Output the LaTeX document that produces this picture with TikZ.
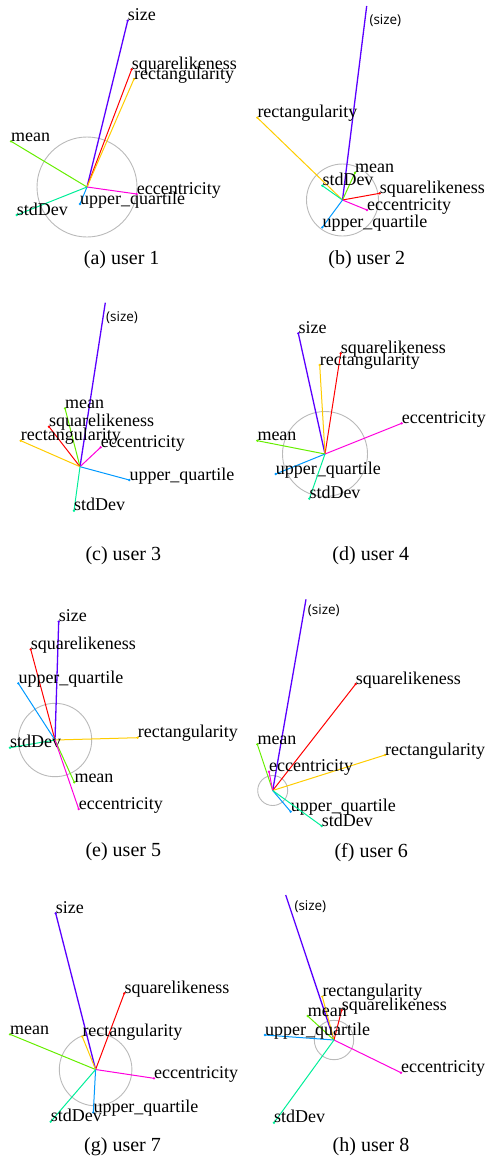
\documentclass[tikz,border=0pt]{standalone}
\usepackage{fontspec}
\setmainfont{Liberation Serif}
\newfontfamily\sizefont{Open Sans}
\definecolor{cSize}{HTML}{5A00FF}
\definecolor{cSquare}{HTML}{FF0000}
\definecolor{cRect}{HTML}{FFCC00}
\definecolor{cMean}{HTML}{66EE00}
\definecolor{cStd}{HTML}{00EE99}
\definecolor{cUpper}{HTML}{0099FF}
\definecolor{cEcc}{HTML}{FF00DD}
\tikzset{
  ray/.style={line width=1pt},
  sizeray/.style={line width=1.3pt, cSize},
  lbl/.style={anchor=base west, inner sep=0pt, font=\fontsize{18}{18}\selectfont},
  sizelbl/.style={anchor=west, inner sep=0pt, font=\sizefont\fontsize{13.5}{13.5}\selectfont},
  capt/.style={inner sep=0pt, font=\fontsize{20}{20}\selectfont},
  guide/.style={draw=black!27, line width=0.9pt}
}
% panel, key, colour, x, y, label
\newcommand\drawray[6]{%
  \coordinate (#1-#2) at (#4,#5);
  \draw[ray,#3] (#1-c) -- (#1-#2);
  \fill[#3] (#1-#2) circle (1.3);
  \node[lbl] (#1-#2-l) at (#1-#2) {#6};
}
% truncated size ray: panel, x, y, label x, label y
\newcommand\drawsizecut[5]{%
  \coordinate (#1-size) at (#2,#3);
  \draw[sizeray] (#1-c) -- (#1-size);
  \node[sizelbl] (#1-size-l) at (#4,#5) {(size)};
}
\begin{document}
\begin{tikzpicture}[x=1pt,y=-1pt]
\useasboundingbox (0,0) rectangle (487,1159);

% ---------------- (a)
\coordinate (a-c) at (87,187);
\draw[guide] (a-c) circle (50);
\draw[sizeray] (a-c) -- (127.7,20.7) coordinate (a-size);
\fill[cSize] (a-size) circle (1.3);
\node[lbl] (a-size-l) at (a-size) {size};
\drawray{a}{sq}{cSquare}{131.7}{69.3}{squarelikeness}
\drawray{a}{re}{cRect}{134}{79}{rectangularity}
\drawray{a}{me}{cMean}{11}{141.3}{mean}
\drawray{a}{ec}{cEcc}{136.7}{194}{eccentricity}
\drawray{a}{up}{cUpper}{80}{204}{upper\_quartile}
\drawray{a}{sd}{cStd}{16.7}{215}{stdDev}
\node[capt] (a-cap) at (121.7,259.3) {(a) user 1};

% ---------------- (b)
\coordinate (b-c) at (342.5,200);
\draw[guide] (b-c) circle (36);
\drawsizecut{b}{366.7}{6}{369.3}{20.7}
\drawray{b}{re}{cRect}{257.3}{117.7}{rectangularity}
\drawray{b}{me}{cMean}{355}{172.7}{mean}
\drawray{b}{sd}{cStd}{322.3}{185.7}{stdDev}
\drawray{b}{sq}{cSquare}{379.7}{193.3}{squarelikeness}
\drawray{b}{ec}{cEcc}{367}{210}{eccentricity}
\drawray{b}{up}{cUpper}{322.3}{227.3}{upper\_quartile}
\node[capt] (b-cap) at (366.7,259.3) {(b) user 2};

% ---------------- (c)
\coordinate (c-c) at (80,466.7);
\drawsizecut{c}{105.3}{302.7}{106}{317.7}
\drawray{c}{me}{cMean}{65}{408.3}{mean}
\drawray{c}{sq}{cSquare}{49}{426.7}{squarelikeness}
\drawray{c}{re}{cRect}{20.7}{440.7}{rectangularity}
\drawray{c}{ec}{cEcc}{100.7}{447.3}{eccentricity}
\drawray{c}{up}{cUpper}{129.3}{480}{upper\_quartile}
\drawray{c}{sd}{cStd}{74}{510.7}{stdDev}
\node[capt] (c-cap) at (123.3,555.7) {(c) user 3};

% ---------------- (d)
\coordinate (d-c) at (325,454);
\draw[guide] (d-c) circle (42.5);
\draw[sizeray] (d-c) -- (298.3,333.3) coordinate (d-size);
\fill[cSize] (d-size) circle (1.3);
\node[lbl] (d-size-l) at (d-size) {size};
\drawray{d}{sq}{cSquare}{340.7}{353.3}{squarelikeness}
\drawray{d}{re}{cRect}{319.7}{365}{rectangularity}
\drawray{d}{ec}{cEcc}{401.7}{423.3}{eccentricity}
\drawray{d}{me}{cMean}{257.3}{440.7}{mean}
\drawray{d}{up}{cUpper}{275.7}{474}{upper\_quartile}
\drawray{d}{sd}{cStd}{309.3}{498.7}{stdDev}
\node[capt] (d-cap) at (370.8,555.7) {(d) user 4};

% ---------------- (e)
\coordinate (e-c) at (55,740);
\draw[guide] (e-c) circle (36.7);
\draw[sizeray] (e-c) -- (58.7,621.7) coordinate (e-size);
\fill[cSize] (e-size) circle (1.3);
\node[lbl] (e-size-l) at (e-size) {size};
\drawray{e}{sq}{cSquare}{30.7}{649.3}{squarelikeness}
\drawray{e}{up}{cUpper}{18.3}{683.3}{upper\_quartile}
\drawray{e}{re}{cRect}{137.7}{737.7}{rectangularity}
\drawray{e}{sd}{cStd}{10}{747.7}{stdDev}
\drawray{e}{me}{cMean}{74.3}{782.3}{mean}
\drawray{e}{ec}{cEcc}{78.7}{809}{eccentricity}
\node[capt] (e-cap) at (123.3,851.7) {(e) user 5};

% ---------------- (f)
\coordinate (f-c) at (272.7,790.5);
\draw[guide] (f-c) circle (15);
\drawsizecut{f}{306}{599.3}{307.7}{611}
\drawray{f}{sq}{cSquare}{355.7}{684}{squarelikeness}
\drawray{f}{me}{cMean}{257.3}{744.3}{mean}
\drawray{f}{re}{cRect}{385}{755}{rectangularity}
\drawray{f}{ec}{cEcc}{269}{771.7}{eccentricity}
\drawray{f}{up}{cUpper}{290.7}{811.7}{upper\_quartile}
\drawray{f}{sd}{cStd}{321.7}{826}{stdDev}
\node[capt] (f-cap) at (371.2,852.3) {(f) user 6};

% ---------------- (g)
\coordinate (g-c) at (95.6,1069.5);
\draw[guide] (g-c) circle (36.3);
\draw[sizeray] (g-c) -- (55.7,913.3) coordinate (g-size);
\fill[cSize] (g-size) circle (1.3);
\node[lbl] (g-size-l) at (g-size) {size};
\drawray{g}{sq}{cSquare}{124.3}{993.3}{squarelikeness}
\drawray{g}{me}{cMean}{10}{1034.3}{mean}
\drawray{g}{re}{cRect}{82.3}{1036.7}{rectangularity}
\drawray{g}{ec}{cEcc}{154}{1078.3}{eccentricity}
\drawray{g}{up}{cUpper}{93.3}{1112.3}{upper\_quartile}
\drawray{g}{sd}{cStd}{50.7}{1121.7}{stdDev}
\node[capt] (g-cap) at (122.5,1146.7) {(g) user 7};

% ---------------- (h)
\coordinate (h-c) at (334,1040);
\draw[guide] (h-c) circle (19.7);
\drawsizecut{h}{285.7}{895}{294.3}{906.7}
\drawray{h}{re}{cRect}{322.3}{996.7}{rectangularity}
\drawray{h}{sq}{cSquare}{341.7}{1010}{squarelikeness}
\drawray{h}{me}{cMean}{307.7}{1016}{mean}
\drawray{h}{up}{cUpper}{265}{1035}{upper\_quartile}
\drawray{h}{ec}{cEcc}{401}{1072.7}{eccentricity}
\drawray{h}{sd}{cStd}{274}{1122.7}{stdDev}
\node[capt] (h-cap) at (371,1146.7) {(h) user 8};
\end{tikzpicture}
\end{document}
